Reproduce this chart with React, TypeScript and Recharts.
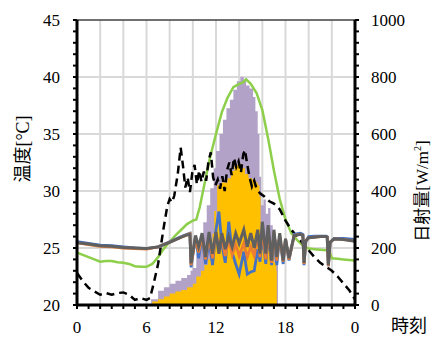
import React from 'react';
import { ComposedChart, Line, Area, XAxis, YAxis, CartesianGrid, ReferenceLine } from 'recharts';

// ---- tick values ----
const hourTicks = [0,1,2,3,4,5,6,7,8,9,10,11,12,13,14,15,16,17,18,19,20,21,22,23,24];
const tempTicks = [20,21,22,23,24,25,26,27,28,29,30,31,32,33,34,35,36,37,38,39,40,41,42,43,44,45];
const radTicks = [0,40,80,120,160,200,240,280,320,360,400,440,480,520,560,600,640,680,720,760,800,840,880,920,960,1000];
const gridHours = [2,4,6,8,10,12,14,16,18,20,22];
const gridTemps = [25,30,35,40];

// ---- solar radiation (right axis, W/m2) ----
const purpleTimes = [6.2,6.4,7,7.5,8,8.5,9,9.5,9.8,10,10.3,10.6,10.9,11.2,11.5,11.8,12.0,12.3,12.6,12.9,13.2,13.5,13.8,14.1,14.4,14.6,14.9,15.2,15.4,15.6,15.75,15.9,16.1,16.3,16.5,16.7,16.9,17.1,17.3,17.35];
const purpleRad = [0,20,50,62,75,85,95,105,120,130,180,230,290,350,410,480,540,600,650,690,720,755,785,800,790,770,760,730,680,600,450,350,370,320,340,280,260,230,150,0];

const yellowTimes = [6.2,6.5,7,7.5,8,8.5,9,9.5,10,10.3,10.7,11,11.3,11.5,11.7,11.85,12.0,12.1,12.5,13,13.3,13.6,13.9,14.2,14.5,14.8,15.1,15.4,15.6,15.75,15.85,16.2,16.6,17.0,17.2,17.25];
const yellowRad = [0,12,20,30,40,47,53,62,75,100,120,140,160,200,250,330,300,420,430,445,470,490,495,480,460,445,440,430,420,380,250,220,180,150,120,0];

// ---- temperatures (left axis, degC) ----
const greenTimes = [0,0.5,1,1.5,2,2.5,3,3.5,4,4.5,5,5.5,6,6.5,7,7.5,8,8.5,9,9.5,10,10.3,10.6,11,11.5,12,12.5,13,13.5,14,14.3,14.6,15,15.5,16,16.5,17,17.5,18,18.5,19,19.5,20,20.5,21,21.5,21.8,22,22.5,23,23.5,24];
const greenTemp = [24.6,24.4,24.2,24.0,23.8,23.85,23.85,23.75,23.7,23.6,23.4,23.35,23.35,23.6,24.2,24.95,25.55,26.1,26.6,27.1,27.4,27.5,28.6,30.6,33.0,35.0,36.9,38.2,39.1,39.4,39.5,39.8,39.4,38.6,37.1,34.6,31.8,29.3,27.5,26.3,25.7,25.2,24.95,24.9,24.85,24.8,24.7,24.1,24.05,24.0,23.95,23.9];

const dashTimes = [0,0.5,1,1.5,2,2.5,3,3.5,4,4.5,5,5.5,6,6.3,6.6,7,7.5,7.8,8.0,8.2,8.4,8.7,8.95,9.15,9.35,9.55,9.75,9.95,10.15,10.35,10.55,10.75,10.95,11.15,11.35,11.55,11.75,11.95,12.15,12.35,12.55,12.75,12.95,13.15,13.35,13.55,13.75,13.95,14.15,14.35,14.5,14.7,14.9,15.1,15.3,15.5,15.8,16.2,16.6,17.0,17.5,18.0,18.5,19.0,19.5,20.0,20.5,21.0,21.5,22.0,22.5,23.0,23.5,24.0];
const dashTemp = [22.8,22.1,21.5,21.2,20.9,21.05,20.9,21.05,21.1,20.9,20.45,20.6,20.45,20.6,21.8,23.6,26.9,28.7,29.3,29.0,29.6,31.5,33.8,32.2,30.3,31.2,29.9,31.6,32.3,30.6,31.8,30.8,31.7,30.9,32.6,33.4,31.2,30.5,31.0,30.2,31.3,30.0,31.8,32.5,31.4,32.9,32.1,32.6,31.6,33.2,33.6,32.3,31.2,30.4,30.9,30.2,29.8,29.5,29.1,28.9,28.4,27.4,26.6,26.0,25.4,24.8,24.2,23.7,23.35,23.0,22.5,21.9,21.3,20.5];

const roomTimes = [0,1,2,3,4,5,6,7,8,9,9.5,9.75,9.85,10.23,10.5,10.8,11.1,11.4,11.7,12.0,12.25,12.5,12.8,13.1,13.4,13.7,14.0,14.4,14.7,15.0,15.3,15.6,15.8,16.0,16.3,16.5,16.8,17.0,17.25,17.5,17.8,18.0,18.3,18.75,19.3,19.5,19.6,19.75,20.0,20.5,21.0,21.5,21.6,21.7,21.85,22.2,23.0,24.0];
const grayTemp = [25.47,25.35,25.2,25.15,25.05,25.0,24.95,25.1,25.5,25.95,26.15,26.2,23.65,26.1,25.1,26.3,24.2,26.4,24.5,26.4,24.5,26.3,24.9,26.0,25.1,26.3,25.4,26.6,25.1,26.3,25.0,26.6,24.5,27.3,24.5,27.0,23.9,26.6,24.2,26.3,23.9,25.8,24.1,26.1,26.2,26.1,23.7,25.6,25.9,25.95,26.0,26.0,25.95,23.5,25.5,25.8,25.75,25.6];
const orangeTemp = [25.45,25.3,25.15,25.1,25.0,24.95,24.9,25.1,25.5,25.95,26.15,26.25,23.5,25.9,24.6,26.1,24.0,26.0,24.1,26.2,25.2,25.8,24.3,25.8,24.4,25.3,24.3,25.4,24.2,25.1,24.3,26.2,24.2,26.6,24.0,26.5,23.7,26.4,23.9,26.1,23.8,25.8,24.0,26.1,26.2,26.1,23.6,25.6,25.9,25.95,26.0,26.0,25.95,23.4,25.5,25.8,25.75,25.6];
const blueTemp = [25.55,25.4,25.25,25.2,25.1,25.0,24.95,25.1,25.55,26.0,26.2,26.3,23.3,26.0,24.1,26.0,23.6,25.6,23.5,26.6,28.2,25.4,23.7,27.3,24.6,23.6,22.7,24.7,22.7,22.9,23.0,24.9,23.8,26.2,23.6,26.3,23.5,26.2,23.5,26.0,23.6,25.8,23.9,26.2,26.3,26.2,23.5,25.6,26.0,26.05,26.05,26.05,26.0,23.4,25.5,25.85,25.85,25.75];

const toSeries = (ts: number[], vs: number[]) => ts.map((t, i) => ({ t, v: vs[i] }));

const purpleData = toSeries(purpleTimes, purpleRad);
const yellowData = toSeries(yellowTimes, yellowRad);
const greenData = toSeries(greenTimes, greenTemp);
const dashData = toSeries(dashTimes, dashTemp);
const grayData = toSeries(roomTimes, grayTemp);
const orangeData = toSeries(roomTimes, orangeTemp);
const blueData = toSeries(roomTimes, blueTemp);

const SERIF = 'Liberation Serif';
const CJK = 'Noto Sans CJK JP';
const FS = 17;

const XTick = (props: any) => {
  const { x, y, payload } = props;
  const v = payload.value as number;
  if (v % 6 !== 0) return <g />;
  return (
    <text x={x} y={y} dy="0.71em" textAnchor="middle" fontFamily={SERIF} fontSize={FS} fill="#000">
      {String(v % 24)}
    </text>
  );
};

const LeftTick = (props: any) => {
  const { x, y, payload } = props;
  const v = payload.value as number;
  if (v % 5 !== 0) return <g />;
  return (
    <text x={x} y={y} dy="0.355em" textAnchor="end" fontFamily={SERIF} fontSize={FS} fill="#000">
      {String(v)}
    </text>
  );
};

const RightTick = (props: any) => {
  const { x, y, payload } = props;
  const v = payload.value as number;
  if (v % 200 !== 0) return <g />;
  return (
    <text x={x} y={y} dy="0.355em" textAnchor="start" fontFamily={SERIF} fontSize={FS} fill="#000">
      {String(v)}
    </text>
  );
};

export default function App() {
  return (
    <div style={{ position: 'absolute', left: 0, top: 0, width: 433, height: 338, background: '#fff' }}>
      <ComposedChart width={433} height={338} margin={{ top: 20, right: 0, bottom: 0, left: 0 }}>
        <CartesianGrid
          xAxisId="x"
          yAxisId="left"
          stroke="#D9D9D9"
          strokeWidth={2}
          horizontalValues={gridTemps}
          verticalValues={gridHours}
        />
        <XAxis
          xAxisId="x"
          type="number"
          dataKey="t"
          domain={[0, 24]}
          ticks={hourTicks}
          interval={0}
          allowDataOverflow
          height={33}
          tickSize={4}
          tickMargin={12}
          axisLine={{ stroke: '#000', strokeWidth: 3 }}
          tickLine={{ stroke: '#000', strokeWidth: 2 }}
          tick={XTick}
        />
        <YAxis
          yAxisId="left"
          type="number"
          domain={[20, 45]}
          ticks={tempTicks}
          interval={0}
          allowDataOverflow
          width={77}
          tickSize={4}
          tickMargin={13}
          axisLine={{ stroke: '#000', strokeWidth: 3 }}
          tickLine={{ stroke: '#000', strokeWidth: 2 }}
          tick={LeftTick}
        />
        <YAxis
          yAxisId="right"
          orientation="right"
          type="number"
          domain={[0, 1000]}
          ticks={radTicks}
          interval={0}
          allowDataOverflow
          width={78}
          tickSize={4}
          tickMargin={12}
          axisLine={{ stroke: '#000', strokeWidth: 3 }}
          tickLine={{ stroke: '#000', strokeWidth: 2 }}
          tick={RightTick}
        />
        <Area
          xAxisId="x"
          yAxisId="right"
          data={purpleData}
          dataKey="v"
          type="stepAfter"
          stroke="none"
          fill="#B3A2C7"
          fillOpacity={1}
          isAnimationActive={false}
        />
        <Area
          xAxisId="x"
          yAxisId="right"
          data={yellowData}
          dataKey="v"
          type="stepAfter"
          stroke="none"
          fill="#FFC000"
          fillOpacity={1}
          isAnimationActive={false}
        />
        <Line xAxisId="x" yAxisId="left" data={greenData} dataKey="v" type="linear" stroke="#8DCF4A" strokeWidth={2.5} dot={false} isAnimationActive={false} />
        <Line xAxisId="x" yAxisId="left" data={dashData} dataKey="v" type="linear" stroke="#000" strokeWidth={2.5} strokeDasharray="8 5" dot={false} isAnimationActive={false} />
        <Line xAxisId="x" yAxisId="left" data={blueData} dataKey="v" type="linear" stroke="#4472C4" strokeWidth={2.8} dot={false} isAnimationActive={false} />
        <Line xAxisId="x" yAxisId="left" data={orangeData} dataKey="v" type="linear" stroke="#ED7D31" strokeWidth={2.8} dot={false} isAnimationActive={false} />
        <Line xAxisId="x" yAxisId="left" data={grayData} dataKey="v" type="linear" stroke="#606060" strokeWidth={3} dot={false} isAnimationActive={false} />
        <ReferenceLine xAxisId="x" yAxisId="left" y={45} stroke="#404040" strokeWidth={1.5} />
      </ComposedChart>
      <div
        style={{
          position: 'absolute', left: 22, top: 149, transform: 'translate(-50%, -50%) rotate(-90deg)',
          fontSize: 18, lineHeight: 1, whiteSpace: 'nowrap', color: '#000',
        }}
      >
        <span style={{ fontFamily: CJK }}>温度</span>
        <span style={{ fontFamily: SERIF }}>[°C]</span>
      </div>
      <div
        style={{
          position: 'absolute', left: 421, top: 191, transform: 'translate(-50%, -50%) rotate(-90deg)',
          fontSize: 17, lineHeight: 1, whiteSpace: 'nowrap', color: '#000',
        }}
      >
        <span style={{ fontFamily: CJK }}>日射量</span>
        <span style={{ fontFamily: SERIF }}>
          [W/m<sup style={{ fontSize: 10, verticalAlign: 'super', lineHeight: 0 }}>2</sup>]
        </span>
      </div>
      <div
        style={{
          position: 'absolute', left: 391, top: 315, fontFamily: CJK,
          fontSize: 18, lineHeight: 1, whiteSpace: 'nowrap', color: '#000',
        }}
      >
        時刻
      </div>
    </div>
  );
}
